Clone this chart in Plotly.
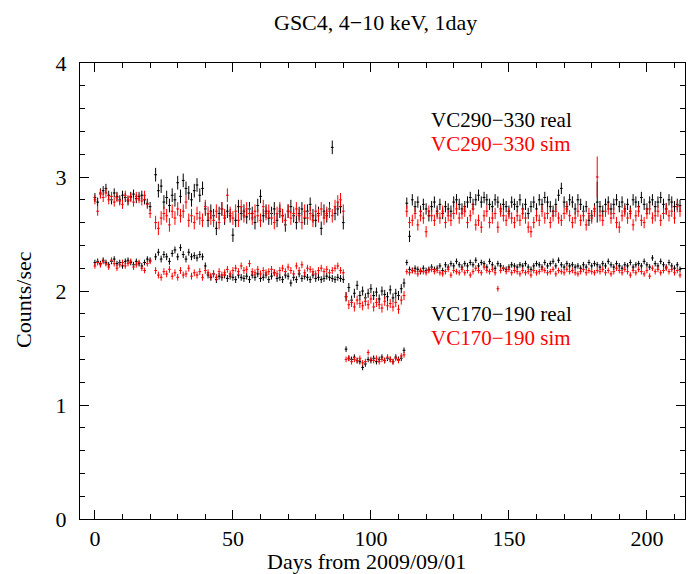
import plotly.graph_objects as go

# ---------------- data ----------------
DAYS_A = list(range(0, 21))      # 0-20
DAYS_B = list(range(22, 91))     # 22-90
DAYS_C = list(range(91, 113))    # 91-112
DAYS_D = list(range(113, 213))   # 113-212
DAYS = DAYS_A + DAYS_B + DAYS_C + DAYS_D

# VC290-330 real
U_REAL = [
    2.82, 2.78, 2.86, 2.88, 2.90, 2.84, 2.80, 2.86, 2.83, 2.80,
    2.84, 2.82, 2.79, 2.83, 2.85, 2.81, 2.83, 2.84, 2.80, 2.77, 2.74,
    # 22-40
    3.02, 2.88, 2.92, 2.78, 2.82, 2.75, 2.84, 2.80, 2.95, 2.83,
    2.97, 2.90, 2.86, 2.80, 2.88, 2.93, 2.84, 2.90, 2.72,
    # 41-90
    2.62, 2.70, 2.66, 2.55, 2.68, 2.72, 2.64, 2.70, 2.66, 2.49,
    2.62, 2.74, 2.68, 2.70, 2.65, 2.72, 2.68, 2.60, 2.75, 2.83,
    2.66, 2.70, 2.64, 2.68, 2.72, 2.62, 2.70, 2.66, 2.58, 2.70,
    2.74, 2.66, 2.60, 2.68, 2.72, 2.64, 2.70, 2.76, 2.66, 2.62,
    2.68, 2.55, 2.70, 2.66, 2.72, 3.26, 2.68, 2.72, 2.74, 2.60,
    # 91-112
    1.95, 2.03, 1.92, 1.98, 2.05, 1.96, 2.00, 1.94, 1.98, 2.02,
    1.96, 1.99, 1.93, 2.00, 1.97, 1.95, 2.01, 1.94, 1.98, 1.96, 2.02, 2.07,
    # 113-212
    2.77, 2.48, 2.80, 2.74, 2.78, 2.70, 2.76, 2.72, 2.66, 2.74,
    2.78, 2.70, 2.76, 2.68, 2.74, 2.72, 2.70, 2.78, 2.80, 2.76,
    2.72, 2.74, 2.78, 2.82, 2.76, 2.80, 2.84, 2.78, 2.82, 2.80,
    2.76, 2.74, 2.80, 2.78, 2.72, 2.76, 2.74, 2.70, 2.78, 2.76,
    2.74, 2.80, 2.72, 2.76, 2.68, 2.74, 2.78, 2.72, 2.80, 2.76,
    2.82, 2.78, 2.74, 2.70, 2.76, 2.84, 2.90, 2.78, 2.74, 2.80,
    2.78, 2.72, 2.80, 2.76, 2.70, 2.74, 2.62, 2.66, 2.72, 2.78,
    2.74, 2.70, 2.76, 2.78, 2.72, 2.76, 2.80, 2.74, 2.78, 2.72,
    2.76, 2.70, 2.80, 2.78, 2.74, 2.82, 2.76, 2.72, 2.78, 2.80,
    2.74, 2.78, 2.82, 2.76, 2.72, 2.80, 2.78, 2.74, 2.76, 2.75,
]

# VC290-330 sim
U_SIM = [
    2.80, 2.70, 2.85, 2.82, 2.86, 2.80, 2.83, 2.78, 2.82, 2.79,
    2.76, 2.84, 2.80, 2.82, 2.78, 2.83, 2.81, 2.79, 2.84, 2.76, 2.68,
    2.60, 2.55, 2.64, 2.68, 2.66, 2.58, 2.70, 2.64, 2.72, 2.66,
    2.70, 2.78, 2.62, 2.66, 2.60, 2.68, 2.64, 2.62, 2.74,
    2.68, 2.64, 2.62, 2.70, 2.60, 2.72, 2.66, 2.84, 2.68, 2.64,
    2.70, 2.62, 2.74, 2.66, 2.72, 2.68, 2.64, 2.70, 2.66, 2.62,
    2.74, 2.68, 2.70, 2.64, 2.60, 2.68, 2.72, 2.66, 2.62, 2.70,
    2.64, 2.68, 2.72, 2.66, 2.60, 2.70, 2.64, 2.68, 2.62, 2.70,
    2.66, 2.72, 2.64, 2.68, 2.70, 2.66, 2.74, 2.78, 2.80, 2.70,
    1.95, 1.88, 1.90, 1.86, 1.92, 1.89, 1.87, 1.91, 1.88, 1.93,
    1.86, 1.90, 1.88, 1.85, 1.91, 1.87, 1.89, 1.86, 1.90, 1.84, 1.92, 1.96,
    2.70, 2.60, 2.62, 2.68, 2.58, 2.66, 2.64, 2.52, 2.70, 2.66,
    2.62, 2.68, 2.64, 2.70, 2.60, 2.66, 2.62, 2.68, 2.72, 2.64,
    2.68, 2.70, 2.60, 2.66, 2.72, 2.58, 2.62, 2.56, 2.66, 2.70,
    2.60, 2.64, 2.68, 2.56, 2.70, 2.66, 2.62, 2.68, 2.64, 2.60,
    2.66, 2.62, 2.68, 2.64, 2.56, 2.52, 2.60, 2.66, 2.62, 2.70,
    2.64, 2.68, 2.60, 2.66, 2.70, 2.64, 2.62, 2.68, 2.72, 2.66,
    2.60, 2.64, 2.70, 2.62, 2.66, 2.58, 2.68, 2.64, 2.70, 3.00,
    2.66, 2.62, 2.70, 2.72, 2.64, 2.68, 2.60, 2.56, 2.66, 2.70,
    2.64, 2.68, 2.58, 2.66, 2.70, 2.62, 2.60, 2.68, 2.72, 2.64,
    2.66, 2.70, 2.62, 2.68, 2.72, 2.66, 2.70, 2.64, 2.74, 2.70,
]

# VC170-190 real
L_REAL = [
    2.25, 2.26, 2.24, 2.27, 2.25, 2.23, 2.26, 2.28, 2.24, 2.25,
    2.22, 2.26, 2.27, 2.25, 2.23, 2.26, 2.24, 2.22, 2.25, 2.28, 2.27,
    2.30, 2.34, 2.28, 2.32, 2.30, 2.26, 2.33, 2.36, 2.30, 2.38,
    2.32, 2.28, 2.34, 2.30, 2.31, 2.29, 2.32, 2.30, 2.22,
    2.14, 2.12, 2.15, 2.10, 2.13, 2.12, 2.14, 2.11, 2.13, 2.12,
    2.10, 2.14, 2.12, 2.11, 2.13, 2.10, 2.14, 2.12, 2.15, 2.11,
    2.12, 2.14, 2.10, 2.13, 2.16, 2.11, 2.12, 2.10, 2.14, 2.13,
    2.07, 2.12, 2.10, 2.15, 2.11, 2.13, 2.12, 2.10, 2.14, 2.11,
    2.12, 2.10, 2.11, 2.13, 2.12, 2.11, 2.10, 2.12, 2.11, 2.10,
    1.49, 1.41, 1.40, 1.42, 1.39, 1.38, 1.33, 1.36, 1.40, 1.39,
    1.41, 1.38, 1.40, 1.42, 1.39, 1.41, 1.40, 1.38, 1.42, 1.40, 1.41, 1.48,
    2.25, 2.19, 2.18, 2.20, 2.19, 2.17, 2.20, 2.18, 2.19, 2.21,
    2.19, 2.20, 2.22, 2.18, 2.23, 2.21, 2.24, 2.22, 2.26, 2.23,
    2.21, 2.24, 2.22, 2.25, 2.23, 2.27, 2.22, 2.25, 2.24, 2.21,
    2.26, 2.23, 2.20, 2.24, 2.22, 2.20, 2.19, 2.21, 2.23, 2.22,
    2.21, 2.23, 2.22, 2.24, 2.21, 2.19, 2.22, 2.24, 2.23, 2.21,
    2.25, 2.22, 2.24, 2.26, 2.22, 2.27, 2.23, 2.21, 2.24, 2.22,
    2.23, 2.21, 2.22, 2.20, 2.23, 2.21, 2.25, 2.22, 2.24, 2.23,
    2.21, 2.24, 2.22, 2.26, 2.23, 2.21, 2.24, 2.22, 2.20, 2.23,
    2.22, 2.25, 2.21, 2.23, 2.24, 2.22, 2.26, 2.23, 2.21, 2.29,
    2.24, 2.22, 2.26, 2.23, 2.21, 2.25, 2.22, 2.20, 2.23, 2.19,
]

# VC170-190 sim
L_SIM = [
    2.22, 2.25, 2.23, 2.26, 2.24, 2.21, 2.27, 2.24, 2.20, 2.23,
    2.25, 2.22, 2.24, 2.26, 2.21, 2.23, 2.25, 2.20, 2.18, 2.24, 2.26,
    2.18, 2.14, 2.12, 2.17, 2.15, 2.19, 2.13, 2.16, 2.12, 2.18,
    2.14, 2.15, 2.20, 2.13, 2.16, 2.14, 2.17, 2.12, 2.18,
    2.16, 2.13, 2.15, 2.12, 2.17, 2.14, 2.16, 2.19, 2.15, 2.18,
    2.20, 2.17, 2.22, 2.18, 2.19, 2.24, 2.17, 2.16, 2.19, 2.15,
    2.18, 2.16, 2.17, 2.19, 2.16, 2.15, 2.18, 2.20, 2.17, 2.21,
    2.18, 2.15, 2.22, 2.18, 2.23, 2.16, 2.20, 2.19, 2.17, 2.15,
    2.18, 2.20, 2.17, 2.19, 2.16, 2.18, 2.20, 2.22, 2.18, 2.16,
    1.40, 1.41, 1.38, 1.40, 1.39, 1.41, 1.37, 1.38, 1.46, 1.40,
    1.39, 1.41, 1.38, 1.40, 1.39, 1.42, 1.40, 1.38, 1.41, 1.39, 1.43, 1.44,
    2.17, 2.16, 2.18, 2.17, 2.15, 2.18, 2.17, 2.16, 2.18, 2.19,
    2.17, 2.18, 2.16, 2.15, 2.17, 2.19, 2.14, 2.18, 2.17, 2.16,
    2.19, 2.16, 2.18, 2.14, 2.17, 2.20, 2.18, 2.16, 2.21, 2.18,
    2.17, 2.19, 2.16, 2.02, 2.18, 2.20, 2.17, 2.19, 2.16, 2.18,
    2.17, 2.15, 2.18, 2.16, 2.17, 2.14, 2.18, 2.16, 2.17, 2.19,
    2.18, 2.16, 2.17, 2.19, 2.15, 2.18, 2.17, 2.16, 2.19, 2.17,
    2.18, 2.16, 2.15, 2.17, 2.19, 2.16, 2.18, 2.17, 2.16, 2.18,
    2.17, 2.19, 2.16, 2.18, 2.15, 2.17, 2.20, 2.18, 2.16, 2.19,
    2.17, 2.14, 2.18, 2.16, 2.19, 2.17, 2.15, 2.18, 2.13, 2.20,
    2.17, 2.19, 2.16, 2.18, 2.20, 2.17, 2.19, 2.16, 2.18, 2.14,
]

# typical 1-sigma errors per segment (A, B, C, D)
ERR_UPPER_SEG = [0.04, 0.06, 0.04, 0.05]
ERR_LOWER_SEG = [0.025, 0.03, 0.025, 0.025]
NOISY_DAY = 182
NOISY_ERR = 0.18

SEG_LENS = [len(DAYS_A), len(DAYS_B), len(DAYS_C), len(DAYS_D)]


def seg_errors(seg_vals, noisy=False):
    out = []
    for v, n in zip(seg_vals, SEG_LENS):
        out += [v] * n
    if noisy:
        out[DAYS.index(NOISY_DAY)] = NOISY_ERR
    return out


series = [
    (U_REAL, seg_errors(ERR_UPPER_SEG, True), "black", "VC290-330 real"),
    (U_SIM, seg_errors(ERR_UPPER_SEG, True), "red", "VC290-330 sim"),
    (L_REAL, seg_errors(ERR_LOWER_SEG), "black", "VC170-190 real"),
    (L_SIM, seg_errors(ERR_LOWER_SEG), "red", "VC170-190 sim"),
]

FONT = "Liberation Serif, Times New Roman, serif"
FS = 22

fig = go.Figure()
for vals, errs, col, name in series:
    fig.add_trace(go.Scatter(
        x=DAYS, y=vals, mode="markers", name=name,
        marker=dict(size=1, color=col),
        error_x=dict(type="constant", value=0.5, width=0, thickness=1, color=col),
        error_y=dict(type="data", array=errs, width=0, thickness=1, color=col),
        showlegend=False,
    ))

# in-plot labels
labels = [
    ("VC290\u2212330 real", 3.50, "black"),
    ("VC290\u2212330 sim", 3.29, "red"),
    ("VC170\u2212190 real", 1.80, "black"),
    ("VC170\u2212190 sim", 1.59, "red"),
]
for txt, yv, col in labels:
    fig.add_annotation(x=147.2, y=yv, xref="x", yref="y", text=txt,
                       showarrow=False, borderpad=0,
                       font=dict(family=FONT, size=21, color=col))

# title and axis titles as positioned text (pixel positions, converted below)
fig.add_annotation(x=375, y=22, xref="paper", yref="paper", text="GSC4, 4\u221210 keV, 1day",
                   showarrow=False, font=dict(family=FONT, size=FS, color="black"))
fig.add_annotation(x=366, y=561, xref="paper", yref="paper", text="Days from 2009/09/01",
                   showarrow=False, borderpad=0, font=dict(family=FONT, size=FS, color="black"))
fig.add_annotation(x=23, y=300, xref="paper", yref="paper", text="Counts/sec", textangle=-90,
                   showarrow=False, font=dict(family=FONT, size=FS, color="black"))

axis_common = dict(
    showline=True, linecolor="black", linewidth=1, mirror="ticks",
    ticks="inside", ticklen=9, tickwidth=1, tickcolor="black",
    showgrid=False, zeroline=False,
    tickfont=dict(family=FONT, size=FS, color="black"),
)

fig.update_xaxes(range=[-5.4, 213.8], tickvals=[0, 50, 100, 150, 200],
                 minor=dict(dtick=10, tick0=0, ticks="inside", ticklen=5, tickcolor="black"),
                 **axis_common)
fig.update_yaxes(range=[0, 4], tickvals=[0, 1, 2, 3, 4], ticklabelstandoff=8,
                 minor=dict(dtick=0.2, tick0=0, ticks="inside", ticklen=5, tickcolor="black"),
                 **axis_common)

W, H = 688, 574
fig.update_layout(
    width=W, height=H,
    margin=dict(l=80, r=3, t=63, b=55),
    paper_bgcolor="white", plot_bgcolor="white",
)

# convert pixel-positioned paper annotations to paper fractions
pw, ph = W - 80 - 3, H - 63 - 55
for ann in fig.layout.annotations:
    if ann.xref == "paper":
        px, py = ann.x, ann.y
        ann.x = (px - 80) / pw
        ann.y = 1 - (py - 63) / ph
        ann.xanchor = "center"
        ann.yanchor = "middle"

fig.write_html("out.html")
